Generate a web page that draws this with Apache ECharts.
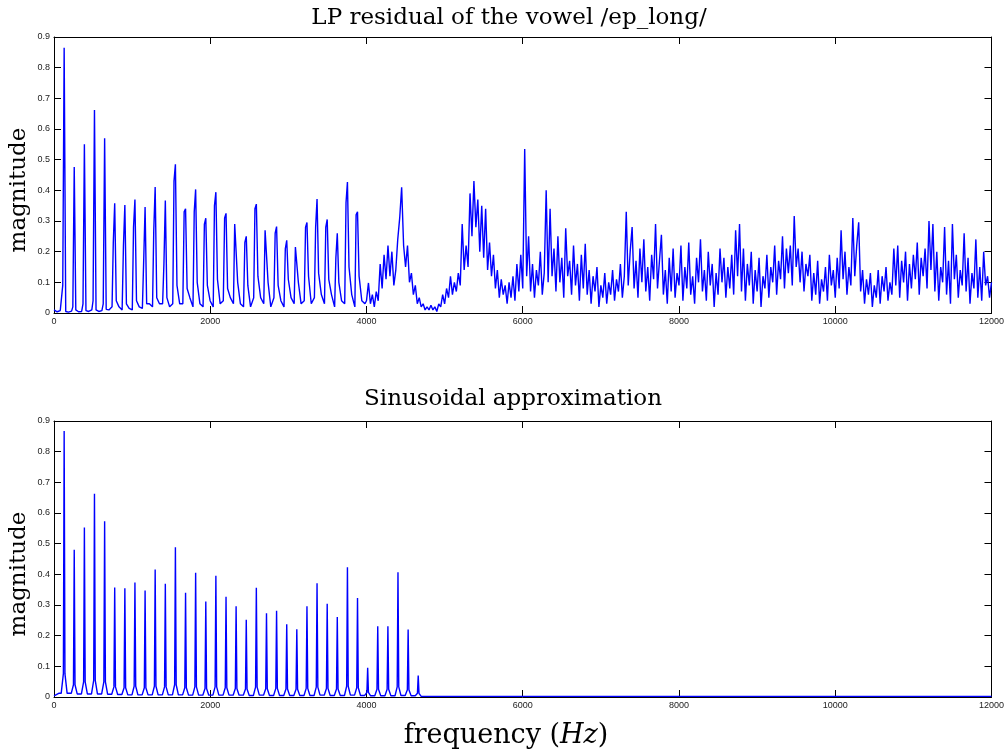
<!DOCTYPE html>
<html>
<head>
<meta charset="utf-8">
<title>LP residual and sinusoidal approximation</title>
<script src="https://cdn.jsdelivr.net/npm/echarts@6/dist/echarts.min.js"></script>
<style>
  html, body { margin: 0; padding: 0; background: #fff; }
  #chart { width: 1007px; height: 755px; }
</style>
</head>
<body>
<div id="chart"></div>
<script>
// harmonic frequencies (Hz), f0 about 129.5 Hz
const harmonicHz = [130, 259, 389, 518, 648, 777, 907, 1036, 1166, 1295, 1425, 1554,
  1684, 1813, 1943, 2072, 2202, 2331, 2461, 2590, 2720, 2849, 2979, 3108,
  3238, 3367, 3497, 3626, 3756, 3885, 4015, 4144, 4274, 4403, 4533, 4662]

// --- top plot: LP residual, harmonic part (first 30 harmonics) ---
const resPeak = [0.865, 0.476, 0.55, 0.662, 0.57, 0.358, 0.352, 0.37, 0.346, 0.411, 0.367, 0.485,
  0.34, 0.403, 0.309, 0.394, 0.325, 0.293, 0.25, 0.355, 0.273, 0.282, 0.237, 0.217,
  0.295, 0.372, 0.305, 0.26, 0.427, 0.33]
const resShoulder = [0.09, 0.02, 0.03, 0.04, 0.03, 0.23, 0.22, 0.28, 0.17, 0.27, 0.16, 0.43,
  0.33, 0.33, 0.29, 0.35, 0.31, 0.29, 0.23, 0.34, 0.27, 0.26, 0.21, 0.215,
  0.28, 0.28, 0.28, 0.18, 0.36, 0.32]
const resGapA = [0.005, 0.01, 0.008, 0.01, 0.012, 0.04, 0.03, 0.04, 0.03, 0.05, 0.05, 0.09,
  0.08, 0.1, 0.09, 0.11, 0.08, 0.1, 0.09, 0.12, 0.1, 0.09, 0.11, 0.1,
  0.12, 0.13, 0.11, 0.1, 0.15, 0.12]
const resGapB = [0.003, 0.004, 0.005, 0.005, 0.01, 0.02, 0.015, 0.02, 0.03, 0.03, 0.02, 0.03,
  0.05, 0.03, 0.04, 0.03, 0.05, 0.03, 0.02, 0.05, 0.02, 0.04, 0.05, 0.03,
  0.03, 0.06, 0.06, 0.04, 0.06, 0.04]
const resGapC = [0.006, 0.005, 0.01, 0.008, 0.02, 0.01, 0.01, 0.015, 0.02, 0.03, 0.03, 0.03,
  0.02, 0.02, 0.02, 0.04, 0.03, 0.02, 0.05, 0.03, 0.05, 0.02, 0.03, 0.04,
  0.05, 0.03, 0.02, 0.03, 0.02, 0.03]

// --- top plot: noisy part, one value every 25 Hz ---
const noiseStepHz = 25
const noise4000 = [0.04, 0.098, 0.03, 0.06, 0.02, 0.07, 0.04, 0.16, 0.08, 0.19, 0.11, 0.22,
  0.12, 0.20, 0.09, 0.14, 0.24, 0.31, 0.41, 0.22, 0.15, 0.22, 0.10, 0.13,
  0.06, 0.09, 0.03, 0.05, 0.02, 0.03, 0.01, 0.02, 0.01, 0.025, 0.01, 0.02,
  0.005, 0.03, 0.02, 0.06, 0.03, 0.08, 0.05, 0.12, 0.06, 0.10, 0.07, 0.13,
  0.09, 0.29, 0.14, 0.22, 0.15, 0.39, 0.25, 0.43, 0.28, 0.37, 0.20, 0.35,
  0.18, 0.34, 0.14, 0.23, 0.12, 0.19, 0.08, 0.14, 0.05, 0.11, 0.06, 0.09,
  0.03, 0.10, 0.05, 0.12, 0.04, 0.16, 0.07, 0.19]
const noise6000 = [0.08, 0.535, 0.12, 0.25, 0.07, 0.16, 0.05, 0.14, 0.09, 0.20, 0.06, 0.13,
  0.40, 0.10, 0.34, 0.12, 0.21, 0.07, 0.25, 0.10, 0.18, 0.05, 0.276, 0.12,
  0.17, 0.06, 0.22, 0.09, 0.16, 0.04, 0.19, 0.08, 0.226, 0.06, 0.14, 0.03,
  0.12, 0.07, 0.15, 0.02, 0.09, 0.05, 0.13, 0.03, 0.10, 0.06, 0.14, 0.04,
  0.11, 0.07, 0.16, 0.05, 0.12, 0.33, 0.09, 0.20, 0.28, 0.08, 0.17, 0.05,
  0.21, 0.10, 0.24, 0.07, 0.15, 0.04, 0.19, 0.11, 0.29, 0.08, 0.17, 0.255,
  0.06, 0.14, 0.03, 0.18, 0.07, 0.21, 0.05, 0.13]
const noise8000 = [0.09, 0.22, 0.04, 0.15, 0.08, 0.23, 0.06, 0.12, 0.03, 0.18, 0.10, 0.24,
  0.07, 0.14, 0.04, 0.20, 0.09, 0.16, 0.02, 0.13, 0.06, 0.21, 0.10, 0.18,
  0.05, 0.15, 0.08, 0.19, 0.06, 0.27, 0.12, 0.29, 0.07, 0.21, 0.04, 0.16,
  0.09, 0.20, 0.03, 0.14, 0.07, 0.18, 0.02, 0.12, 0.08, 0.19, 0.05, 0.15,
  0.10, 0.22, 0.06, 0.17, 0.11, 0.25, 0.08, 0.21, 0.13, 0.22, 0.09, 0.316,
  0.15, 0.21, 0.10, 0.20, 0.07, 0.16, 0.12, 0.19, 0.04, 0.13, 0.06, 0.17,
  0.03, 0.11, 0.07, 0.15, 0.04, 0.19, 0.09, 0.14]
const noise10000 = [0.05, 0.18, 0.08, 0.27, 0.11, 0.20, 0.06, 0.15, 0.09, 0.31, 0.12, 0.22,
  0.296, 0.07, 0.14, 0.03, 0.11, 0.06, 0.13, 0.02, 0.09, 0.05, 0.14, 0.03,
  0.12, 0.07, 0.15, 0.04, 0.10, 0.06, 0.21, 0.09, 0.22, 0.05, 0.17, 0.10,
  0.20, 0.04, 0.16, 0.08, 0.19, 0.11, 0.23, 0.06, 0.18, 0.12, 0.21, 0.08,
  0.30, 0.14, 0.29, 0.07, 0.20, 0.04, 0.15, 0.10, 0.28, 0.06, 0.17, 0.03,
  0.29, 0.11, 0.19, 0.05, 0.14, 0.09, 0.26, 0.07, 0.18, 0.03, 0.13, 0.08,
  0.24, 0.05, 0.15, 0.04, 0.20, 0.09, 0.12, 0.05, 0.10]

// --- bottom plot: sinusoidal approximation, 36 harmonics ---
const sinPeak = [0.867, 0.48, 0.553, 0.663, 0.573, 0.357, 0.355, 0.373, 0.347, 0.416, 0.369, 0.488,
  0.34, 0.405, 0.311, 0.395, 0.327, 0.296, 0.252, 0.356, 0.273, 0.281, 0.237, 0.221,
  0.296, 0.371, 0.304, 0.261, 0.423, 0.323, 0.095, 0.231, 0.231, 0.407, 0.22, 0.07]
const sinSkirt = [0.076, 0.04, 0.049, 0.054, 0.049, 0.033, 0.03, 0.035, 0.03, 0.035, 0.033, 0.04,
  0.03, 0.033, 0.028, 0.033, 0.03, 0.028, 0.026, 0.032, 0.027, 0.028, 0.026, 0.025,
  0.028, 0.032, 0.028, 0.026, 0.035, 0.03, 0.015, 0.025, 0.025, 0.033, 0.024, 0.012]
const sinTrough = [0.012, 0.01, 0.01, 0.01, 0.009, 0.008, 0.007, 0.007, 0.007, 0.007, 0.007, 0.007,
  0.006, 0.006, 0.006, 0.006, 0.006, 0.006, 0.005, 0.006, 0.005, 0.005, 0.005, 0.005,
  0.005, 0.006, 0.005, 0.005, 0.006, 0.005, 0.004, 0.004, 0.004, 0.005, 0.004, 0.002]

const xTicks = [0, 2000, 4000, 6000, 8000, 10000, 12000]
const yTicks = [0, 0.1, 0.2, 0.3, 0.4, 0.5, 0.6, 0.7, 0.8, 0.9]

// build the residual line
const residual = [[0, 0.01], [40, 0.004], [80, 0.008]]
resPeak.forEach((p, i) => {
  const f = harmonicHz[i]
  residual.push([f - 18, resShoulder[i]], [f, p], [f + 20, resGapA[i]],
    [f + 55, resGapB[i]], [f + 95, resGapC[i]])
})
;[noise4000, noise6000, noise8000, noise10000].forEach((arr, j) => {
  arr.forEach((v, i) => residual.push([4000 + j * 2000 + i * noiseStepHz, v]))
})

// build the sinusoidal line: low floor, small skirt, spike
const sinusoid = [[0, 0.004], [60, 0.012]]
sinPeak.forEach((p, i) => {
  const f = harmonicHz[i]
  const prevTrough = i === 0 ? 0.012 : sinTrough[i - 1]
  sinusoid.push([f - 38, prevTrough], [f - 10, sinSkirt[i]], [f, p], [f + 10, sinSkirt[i]],
    [f + 38, sinTrough[i]])
})
sinusoid.push([5000, 0.002], [12000, 0.002])

const serif = 'DejaVu Serif'
const sans = 'Liberation Sans'

function xAxes(gridIndex) {
  const base = {
    type: 'value', gridIndex: gridIndex, min: xTicks[0], max: xTicks[xTicks.length - 1],
    interval: 2000,
    axisLine: { show: true, onZero: false, lineStyle: { color: '#000', width: 1 } },
    axisTick: { show: true, inside: true, length: 7, lineStyle: { color: '#000' } },
    splitLine: { show: false }
  }
  return [
    Object.assign({}, base, {
      position: 'bottom',
      axisLabel: { fontSize: 9, fontFamily: sans, color: '#222', margin: 4,
        formatter: v => String(v) }
    }),
    Object.assign({}, base, { position: 'top', axisLabel: { show: false } })
  ]
}

function yAxes(gridIndex) {
  const base = {
    type: 'value', gridIndex: gridIndex, min: yTicks[0], max: yTicks[yTicks.length - 1],
    interval: 0.1,
    axisLine: { show: true, onZero: false, lineStyle: { color: '#000', width: 1 } },
    axisTick: { show: true, inside: true, length: 7, lineStyle: { color: '#000' } },
    splitLine: { show: false }
  }
  return [
    Object.assign({}, base, {
      position: 'left',
      axisLabel: {
        fontSize: 9, fontFamily: sans, color: '#222', margin: 4,
        formatter: v => (v === 0 ? '0' : v.toFixed(1))
      }
    }),
    Object.assign({}, base, { position: 'right', axisLabel: { show: false } })
  ]
}

const lineStyle = { color: '#0000ff', width: 1.4 }

const chart = echarts.init(document.getElementById('chart'), null, { renderer: 'canvas' })
chart.setOption({
  animation: false,
  backgroundColor: '#fff',
  grid: [
    { left: 54, top: 37, width: 938, height: 276 },
    { left: 54, top: 421, width: 938, height: 276 }
  ],
  xAxis: [...xAxes(0), ...xAxes(1)],
  yAxis: [...yAxes(0), ...yAxes(1)],
  series: [
    {
      name: 'LP residual', type: 'line', xAxisIndex: 0, yAxisIndex: 0,
      data: residual, symbol: 'none', lineStyle: lineStyle, silent: true
    },
    {
      name: 'Sinusoidal approximation', type: 'line', xAxisIndex: 2, yAxisIndex: 2,
      data: sinusoid, symbol: 'none', lineStyle: lineStyle, silent: true
    }
  ],
  graphic: [
    {
      type: 'text', x: 509, y: 18,
      style: { text: 'LP residual of the vowel /ep_long/', font: '23px ' + serif,
        fill: '#000', align: 'center', verticalAlign: 'middle' }
    },
    {
      type: 'text', x: 513, y: 399,
      style: { text: 'Sinusoidal approximation', font: '23px ' + serif,
        fill: '#000', align: 'center', verticalAlign: 'middle' }
    },
    {
      type: 'text', x: 19, y: 190, rotation: Math.PI / 2,
      style: { text: 'magnitude', font: '23px ' + serif,
        fill: '#000', align: 'center', verticalAlign: 'middle' }
    },
    {
      type: 'text', x: 19, y: 574, rotation: Math.PI / 2,
      style: { text: 'magnitude', font: '23px ' + serif,
        fill: '#000', align: 'center', verticalAlign: 'middle' }
    },
    {
      type: 'text', x: 506, y: 736,
      style: {
        text: '{n|frequency (}{i|Hz}{n|)}',
        align: 'center', verticalAlign: 'middle',
        rich: {
          n: { fontFamily: serif, fontSize: 27, fill: '#000' },
          i: { fontFamily: serif, fontSize: 27, fontStyle: 'italic', fill: '#000' }
        }
      }
    }
  ]
})
</script>
</body>
</html>
